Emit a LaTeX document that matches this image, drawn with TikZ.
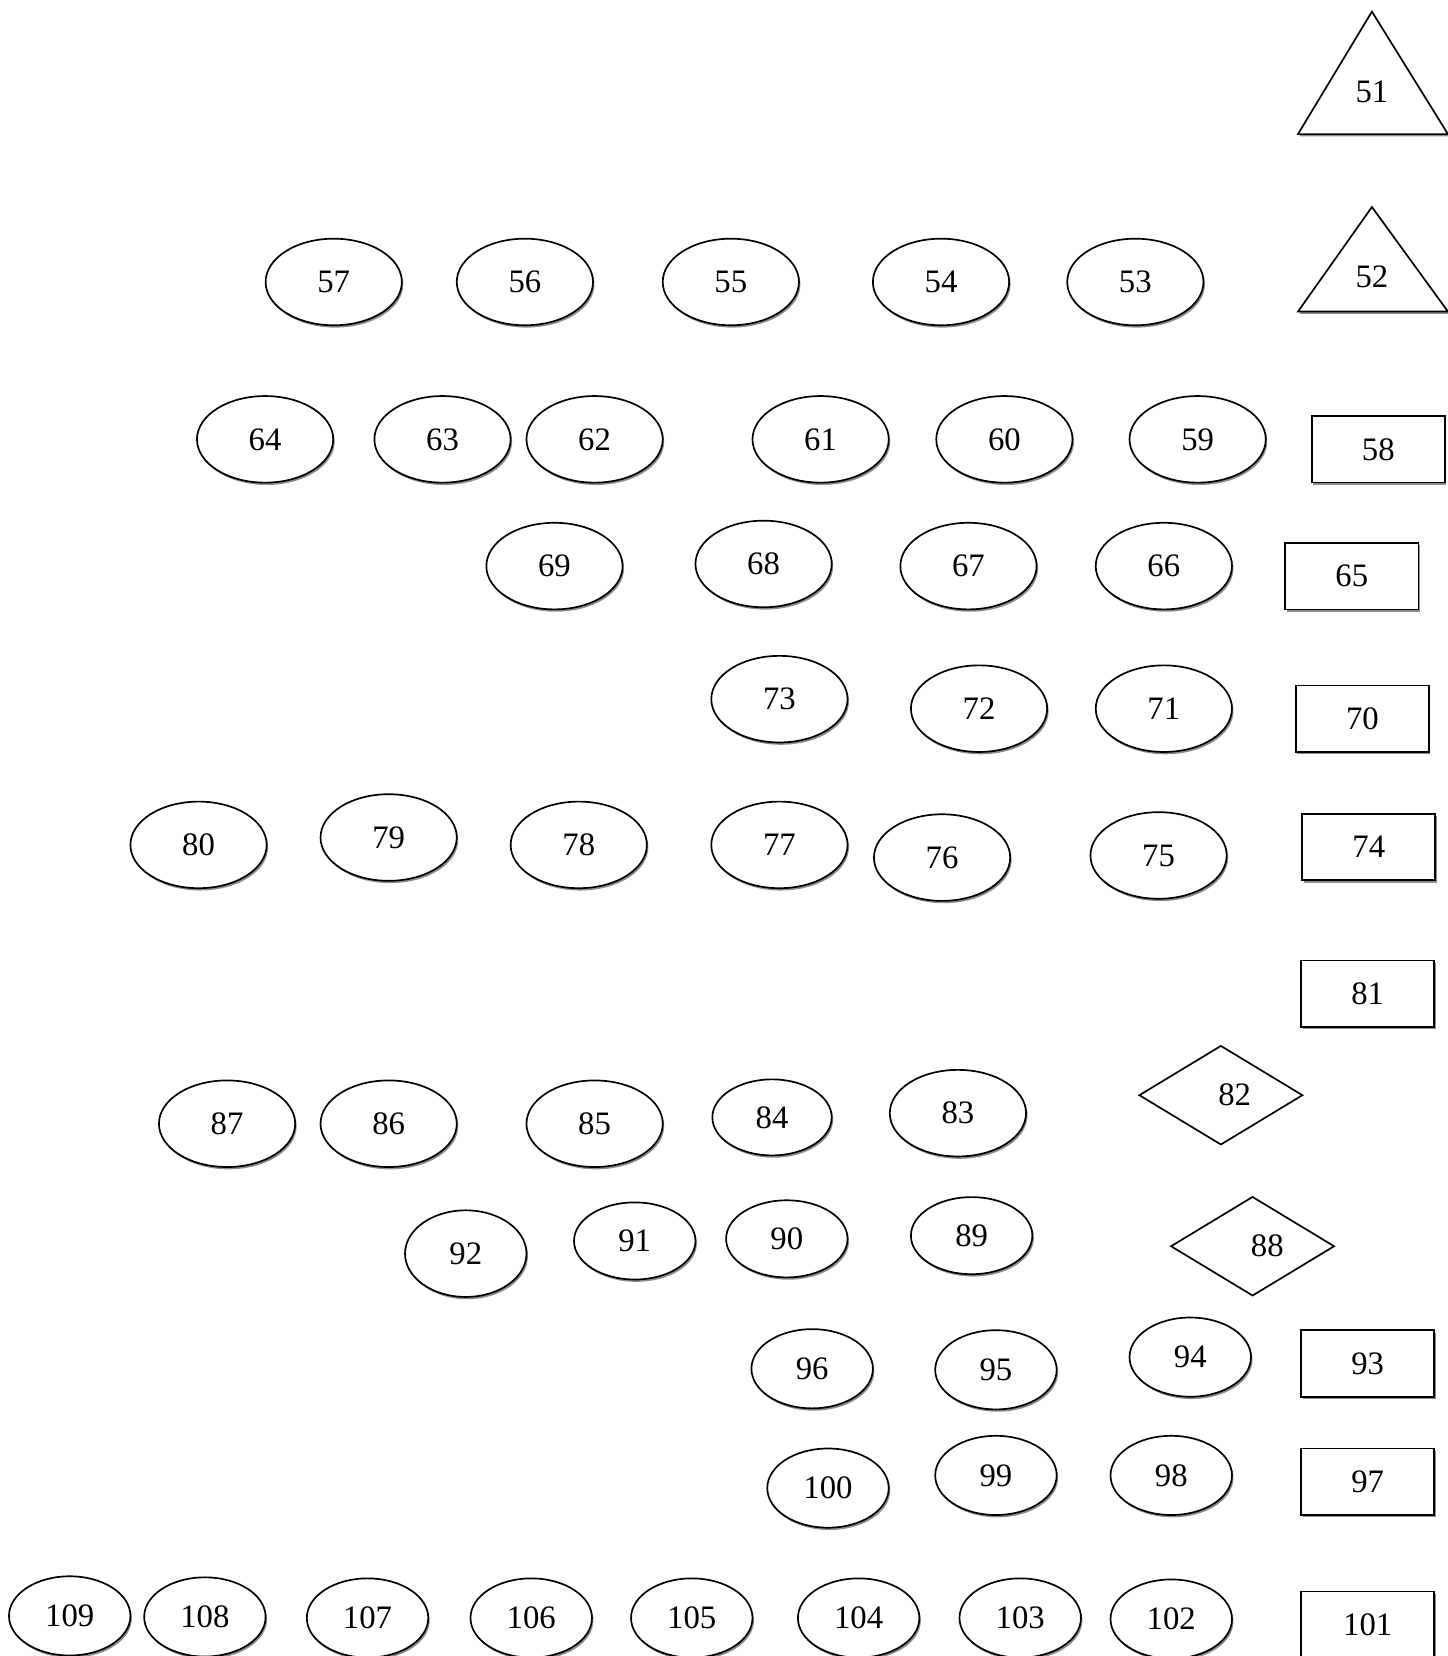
\documentclass[tikz,border=0pt]{standalone}
\usepackage{fontspec}
\setmainfont{Liberation Serif}
\usetikzlibrary{shapes.geometric,shadows}
\begin{document}
\begin{tikzpicture}[x=0.5pt,y=-0.5pt,
  font=\fontsize{15.5}{18}\selectfont,
  shd/.style={drop shadow={shadow xshift=0.7pt,shadow yshift=-1.1pt,fill=black!45,opacity=1}},
  ell/.style={ellipse,draw,line width=0.8pt,fill=white,minimum width=64.5pt,minimum height=41pt,inner sep=0pt,shd},
  sell/.style={ell,minimum width=57.5pt,minimum height=37.5pt},
  box/.style={rectangle,draw,line width=0.8pt,fill=white,minimum width=63pt,minimum height=31.5pt,inner sep=0pt,shd},
  dia/.style={diamond,draw,line width=0.8pt,fill=white,minimum width=77.5pt,minimum height=47pt,inner sep=0pt},
  tri/.style={draw,line width=0.8pt,fill=white}]
\useasboundingbox (0,0) rectangle (1371,1568);
% triangles
\coordinate (t1a) at (1299,11); \coordinate (t1b) at (1371,127); \coordinate (t1c) at (1229,127);
\fill[black!45] ([shift={(1.4,2.2)}]t1a) -- ([shift={(1.4,2.2)}]t1b) -- ([shift={(1.4,2.2)}]t1c) -- cycle;
\draw[tri] (t1a) -- (t1b) -- (t1c) -- cycle;
\node (n51) at (1299,87) {51};
\coordinate (t2a) at (1299,196); \coordinate (t2b) at (1371,295); \coordinate (t2c) at (1229,295);
\fill[black!45] ([shift={(1.4,2.2)}]t2a) -- ([shift={(1.4,2.2)}]t2b) -- ([shift={(1.4,2.2)}]t2c) -- cycle;
\draw[tri] (t2a) -- (t2b) -- (t2c) -- cycle;
\node (n52) at (1299,262) {52};
% rectangles
\node[box] (n58) at (1305,425.5) {58};
\node[box] (n65) at (1280,545.5) {65};
\node[box] (n70) at (1290,680.5) {70};
\node[box] (n74) at (1296,802) {74};
\node[box] (n81) at (1295,941) {81};
\node[box] (n93) at (1295,1291) {93};
\node[box] (n97) at (1295,1403) {97};
\node[box] (n101) at (1295,1538.5) {101};
% diamonds
\node[dia,label={[xshift=6.5pt]center:82}] (n82) at (1156,1037) {};
\node[dia,label={[xshift=7pt]center:88}] (n88) at (1186,1180) {};
% ellipses row 53-57
\node[ell] (n57) at (316,267) {57};
\node[ell] (n56) at (497,267) {56};
\node[ell] (n55) at (692,267) {55};
\node[ell] (n54) at (891,267) {54};
\node[ell] (n53) at (1075,267) {53};
% row 59-64
\node[ell] (n64) at (251,416) {64};
\node[ell] (n63) at (419,416) {63};
\node[ell] (n62) at (563,416) {62};
\node[ell] (n61) at (777,416) {61};
\node[ell] (n60) at (951,416) {60};
\node[ell] (n59) at (1134,416) {59};
% row 66-69
\node[ell] (n69) at (525,536) {69};
\node[ell] (n68) at (723,534) {68};
\node[ell] (n67) at (917,536) {67};
\node[ell] (n66) at (1102,536) {66};
% row 71-73
\node[ell] (n73) at (738,662) {73};
\node[ell] (n72) at (927,671) {72};
\node[ell] (n71) at (1102,671) {71};
% row 75-80
\node[ell] (n80) at (188,800) {80};
\node[ell] (n79) at (368,793) {79};
\node[ell] (n78) at (548,800) {78};
\node[ell] (n77) at (738,800) {77};
\node[ell] (n76) at (892,812) {76};
\node[ell] (n75) at (1097,810) {75};
% row 83-87
\node[ell] (n87) at (215,1064) {87};
\node[ell] (n86) at (368,1064) {86};
\node[ell] (n85) at (563,1064) {85};
\node[ell,minimum width=56.5pt,minimum height=36pt] (n84) at (731,1058) {84};
\node[ell] (n83) at (907,1054) {83};
% row 89-92
\node[sell,minimum height=41pt] (n92) at (441,1187) {92};
\node[sell,minimum height=36.5pt] (n91) at (601,1175) {91};
\node[sell,minimum height=36.5pt] (n90) at (745,1173) {90};
\node[sell,minimum height=36.5pt] (n89) at (920,1170) {89};
% row 94-96
\node[sell] (n96) at (769,1296) {96};
\node[sell] (n95) at (943,1297) {95};
\node[sell] (n94) at (1127,1285) {94};
% row 98-100
\node[sell] (n100) at (784,1409) {100};
\node[sell] (n99) at (943,1397) {99};
\node[sell] (n98) at (1109,1397) {98};
% row 102-109
\node[sell] (n109) at (66,1530) {109};
\node[sell] (n108) at (194,1531) {108};
\node[sell] (n107) at (348,1532) {107};
\node[sell] (n106) at (503,1532) {106};
\node[sell] (n105) at (655,1532) {105};
\node[sell] (n104) at (813,1532) {104};
\node[sell] (n103) at (966,1532) {103};
\node[sell] (n102) at (1109,1533) {102};
\end{tikzpicture}
\end{document}
